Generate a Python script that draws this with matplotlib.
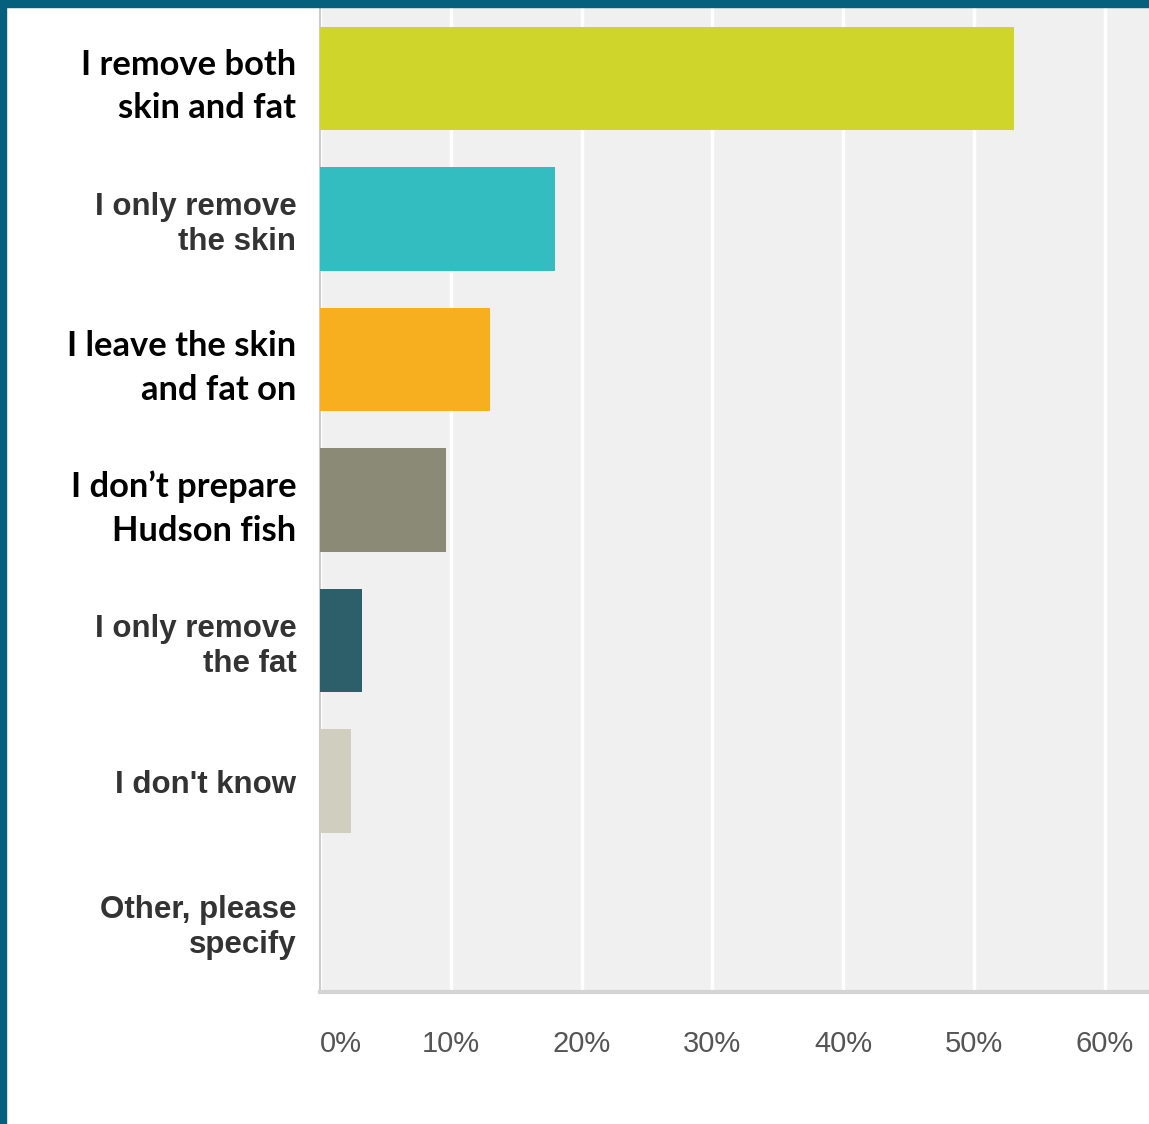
import matplotlib.pyplot as plt
from matplotlib.patches import Rectangle

answers = ["I remove both\nskin and fat", "I only remove\nthe skin", "I leave the skin\nand fat on",
           "I don\u2019t prepare\nHudson fish", "I only remove\nthe fat", "I don't know",
           "Other, please\nspecify"]
percent = [53.1, 18.0, 13.0, 9.6, 3.2, 2.4, 0.0]
xticks = [0, 10, 20, 30, 40, 50, 60]
xtick_labels = ["0%", "10%", "20%", "30%", "40%", "50%", "60%"]

colors = ["#cfd52a", "#33bdc0", "#f7af1f", "#8a8a77", "#2d5f6b", "#d0cfbf", "#d0cfbf"]
big_labels = [0, 2, 3]  # labels that were retyped in a bigger bold font

W, H = 1149, 1124
fig = plt.figure(figsize=(W / 100, H / 100), dpi=100)
fig.patch.set_facecolor("white")

ax = fig.add_axes([320 / W, 1 - 992 / H, 1 - 320 / W, (992 - 8) / H])
ax.set_facecolor("#f0f0f0")
ypos = list(range(len(answers)))
ax.barh(ypos, percent, height=0.735, color=colors, edgecolor="none", zorder=3)
ax.set_ylim(len(answers) - 0.5, -0.5)
ax.set_xlim(0, 63.4)

ax.set_xticks(xticks)
ax.set_xticklabels(xtick_labels, fontfamily="Liberation Sans", fontsize=21, color="#555555")
ax.get_xticklabels()[0].set_horizontalalignment("left")
ax.xaxis.grid(True, color="white", linewidth=2.5, zorder=1)
ax.tick_params(axis="x", length=0, pad=27)

ax.set_yticks(ypos)
ax.set_yticklabels(answers)
ax.tick_params(axis="y", length=0, pad=17)
for i, lab in enumerate(ax.get_yticklabels()):
    if i in big_labels:
        lab.set_fontfamily("Lato")
        lab.set_fontweight("bold")
        lab.set_fontsize(24.8)
        lab.set_color("black")
        lab.set_linespacing(1.43)
    else:
        lab.set_fontfamily("Liberation Sans")
        lab.set_fontweight("bold")
        lab.set_fontsize(22.5)
        lab.set_color("#333333")
        lab.set_linespacing(1.2)

for s in ["top", "right"]:
    ax.spines[s].set_visible(False)
ax.spines["left"].set_color("#cccccc")
ax.spines["left"].set_linewidth(1.5)
ax.spines["bottom"].set_color("#d4d4d4")
ax.spines["bottom"].set_linewidth(3)

# dark frame on the left and top edges
fig.patches.append(Rectangle((0, 0), 6 / W, 1, transform=fig.transFigure, color="#04607c", zorder=10))
fig.patches.append(Rectangle((0, 1 - 7 / H), 1, 7 / H, transform=fig.transFigure, color="#04607c", zorder=10))

fig.savefig("out.png", dpi=100)
